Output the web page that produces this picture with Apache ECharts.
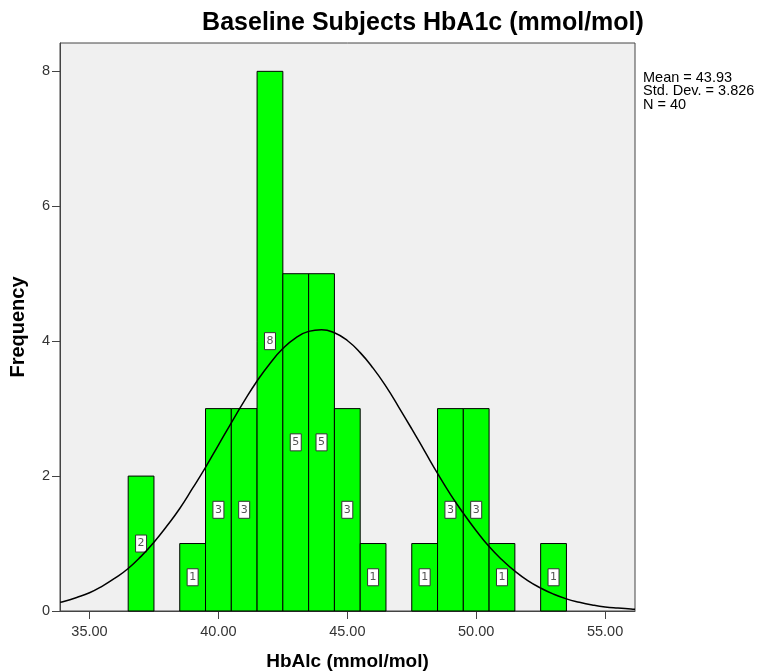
<!DOCTYPE html>
<html><head><meta charset="utf-8">
<script src="https://cdn.jsdelivr.net/npm/echarts@6/dist/echarts.min.js"></script>
<style>html,body{margin:0;padding:0;background:#fff}#c{width:758px;height:672px}</style>
</head><body><div id="c"></div>
<script>
const binCenters = [37, 39, 40, 41, 42, 43, 44, 45, 46, 48, 49, 50, 51, 53];
const frequencies = [2, 1, 3, 3, 8, 5, 5, 3, 1, 1, 3, 3, 1, 1];
const curveX = [33.86, 34, 34.5, 35, 35.5, 36, 36.5, 37, 37.5, 38, 38.5, 39, 39.5, 40, 40.5, 41, 41.5, 42, 42.5, 43, 43.5, 44, 44.5, 45, 45.5, 46, 46.5, 47, 47.5, 48, 48.5, 49, 49.5, 50, 50.5, 51, 51.5, 52, 52.5, 53, 53.5, 54, 54.5, 55, 55.5, 56, 56.16];
const curveY = [0.13, 0.14, 0.20, 0.27, 0.37, 0.49, 0.63, 0.81, 1.02, 1.26, 1.52, 1.82, 2.13, 2.46, 2.79, 3.11, 3.41, 3.67, 3.89, 4.05, 4.145, 4.17, 4.125, 4.01, 3.83, 3.60, 3.33, 3.02, 2.70, 2.37, 2.04, 1.73, 1.45, 1.19, 0.955, 0.76, 0.59, 0.45, 0.34, 0.25, 0.18, 0.13, 0.09, 0.06, 0.043, 0.03, 0.025];
const xTicks = [35, 40, 45, 50, 55];
const yTicks = [0, 2, 4, 6, 8];
const statsLines = ['Mean = 43.93', 'Std. Dev. = 3.826', 'N = 40'];

const chart = echarts.init(document.getElementById('c'));
const font = 'Liberation Sans, Arial, sans-serif';
chart.setOption({
  animation: false,
  title: {
    text: 'Baseline Subjects HbA1c (mmol/mol)',
    left: 418, top: 6, textAlign: 'center',
    textStyle: {fontFamily: font, fontWeight: 'bold', fontSize: 25, color: '#000'}
  },
  grid: {left: 60, right: 123, top: 43, bottom: 61, containLabel: false, outerBoundsMode: 'none',
         show: true, backgroundColor: '#f0f0f0', borderColor: '#444', borderWidth: 1},
  xAxis: {
    type: 'value', min: 33.855, max: 56.16,
    name: 'HbAlc (mmol/mol)', nameLocation: 'middle', nameGap: 41,
    nameTextStyle: {fontFamily: font, fontWeight: 'bold', fontSize: 19, color: '#000'},
    axisLine: {show: true, onZero: false, lineStyle: {color: '#444'}},
    axisTick: {show: true, inside: false, customValues: xTicks, length: 8, lineStyle: {color: '#444'}},
    axisLabel: {customValues: xTicks, formatter: v => v.toFixed(2), fontFamily: font, fontSize: 14.5, color: '#333', margin: 13},
    splitLine: {show: false}
  },
  yAxis: {
    type: 'value', min: 0, max: 8.42,
    name: 'Frequency', nameLocation: 'middle', nameGap: 32, nameRotate: 90,
    nameTextStyle: {fontFamily: font, fontWeight: 'bold', fontSize: 20, color: '#000'},
    axisLine: {show: true, lineStyle: {color: '#444'}},
    axisTick: {show: true, inside: false, customValues: yTicks, length: 8, lineStyle: {color: '#444'}},
    axisLabel: {customValues: yTicks, fontFamily: font, fontSize: 14.5, color: '#333', margin: 10},
    splitLine: {show: false}
  },
  graphic: statsLines.map((t, i) => ({
    type: 'text', left: 643, top: 70 + i * 13.5,
    style: {text: t, font: '14.5px Liberation Sans, Arial, sans-serif', fill: '#000'}
  })),
  series: [
    {
      type: 'custom',
      data: binCenters.map((c, i) => [c, frequencies[i]]),
      encode: {x: 0, y: 1},
      renderItem: (params, api) => {
        const c = api.value(0), f = api.value(1);
        const p0 = api.coord([c - 0.5, f]);
        const p1 = api.coord([c + 0.5, 0]);
        const mid = api.coord([c, f / 2]);
        return {
          type: 'group',
          children: [
            {type: 'rect', shape: {x: p0[0], y: p0[1], width: p1[0] - p0[0], height: p1[1] - p0[1]},
             style: {fill: '#00ff00', stroke: '#000', lineWidth: 1}},
            {type: 'rect', shape: {x: mid[0] - 5.5, y: mid[1] - 8.5, width: 11, height: 17},
             style: {fill: '#fff', stroke: '#333', lineWidth: 1}},
            {type: 'text', x: mid[0], y: mid[1],
             style: {text: String(f), font: '11px DejaVu Sans, sans-serif', fill: '#555', align: 'center', verticalAlign: 'middle'}}
          ]
        };
      },
      z: 2
    },
    {
      type: 'line', data: curveX.map((x, i) => [x, curveY[i]]),
      smooth: true, showSymbol: false, symbol: 'none',
      lineStyle: {color: '#000', width: 1.5}, z: 3
    }
  ]
});
</script></body></html>
